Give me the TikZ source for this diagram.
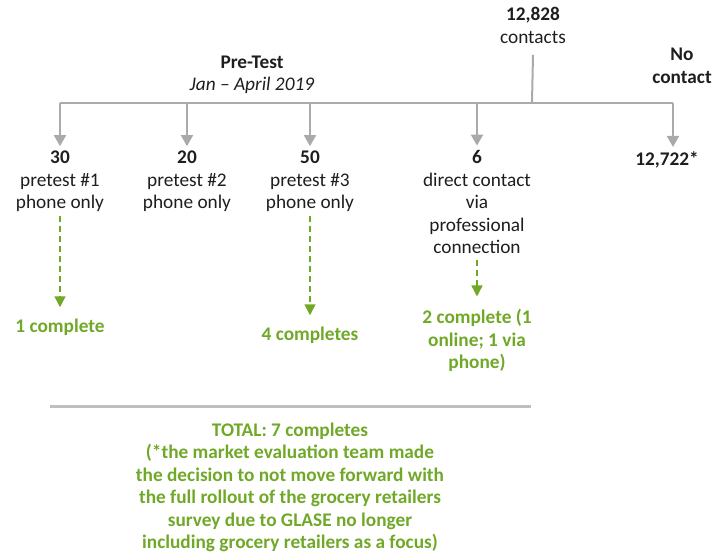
\documentclass[tikz,border=0pt]{standalone}
\usepackage{fontspec}
\setmainfont{Carlito}
\usetikzlibrary{arrows.meta}
\definecolor{linegray}{RGB}{170,170,170}
\definecolor{rulegray}{RGB}{191,191,191}
\definecolor{leafgreen}{RGB}{112,168,40}
\definecolor{inkgray}{RGB}{30,30,30}
\begin{document}
\begin{tikzpicture}[x=1pt,y=-1pt,
  % nodes are placed by the baseline of their last line
  every node/.style={inner sep=0pt, align=center, anchor=base,
    font=\fontsize{19.3}{22.5}\selectfont, text=inkgray},
  result/.style={text=leafgreen, font=\fontsize{19.3}{22.5}\selectfont\bfseries},
  branch/.style={draw=linegray, line width=2pt},
  feed/.style={draw=linegray, line width=2pt,
    -{Triangle[width=12pt,length=11pt]}, shorten >=5pt},
  outcome/.style={draw=leafgreen, line width=1.5pt, dash pattern=on 6pt off 4pt,
    -{Triangle[width=11pt,length=11pt]}}
]
\useasboundingbox (0,0) rectangle (716,556);

% source and headings
\node (src) at (533,43.5) {\textbf{12,828}\\contacts};
\node (nocon) at (682,83.5) {\textbf{No}\\\textbf{contact}};
\node (pre) at (252,91) {\textbf{Pre-Test}\\\textit{Jan -- April 2019}};

% branch points on the distribution line
\coordinate (j0) at (532,103);
\coordinate (b1) at (60,103);
\coordinate (b2) at (187,103);
\coordinate (b3) at (310,103);
\coordinate (b4) at (477,103);
\coordinate (b5) at (673,103);

% contact groups
\node (p1) at (60,209) {\textbf{30}\\pretest \#1\\phone only};
\node (p2) at (187,209) {\textbf{20}\\pretest \#2\\phone only};
\node (p3) at (310,209) {\textbf{50}\\pretest \#3\\phone only};
\node (p4) at (477,254) {\textbf{6}\\direct contact\\via\\professional\\connection};
\node (p5) at (667,166) {\textbf{12,722*}};

% completes
\node[result] (c1) at (60,333) {1 complete};
\node[result] (c3) at (310,341) {4 completes};
\node[result] (c4) at (477,369) {2 complete (1\\online; 1 via\\phone)};

% summary
\coordinate (r1) at (50,407);
\coordinate (r2) at (531,407);
\node[result] (tot) at (290,548.5) {TOTAL: 7 completes\\(*the market evaluation team made\\the decision to not move forward with\\the full rollout of the grocery retailers\\survey due to GLASE no longer\\including grocery retailers as a focus)};

% tree lines
\draw[branch] (src.south) ++(0,11) -- (j0);
\draw[branch] (b1) -- (b5);
\foreach \b/\p in {b1/p1, b2/p2, b3/p3, b4/p4, b5/p5}
  \draw[feed] (\b) -- (\b |- \p.north);

% dashed outcome arrows
\draw[outcome] (p1.south) ++(0,4) -- ([yshift=12pt]c1.north);
\draw[outcome] (p3.south) ++(0,4) -- ([yshift=12pt]c3.north);
\draw[outcome] (p4.south) ++(0,6) -- ([yshift=13pt]c4.north);

% summary rule
\draw[draw=rulegray, line width=3pt] (r1) -- (r2);
\end{tikzpicture}
\end{document}
